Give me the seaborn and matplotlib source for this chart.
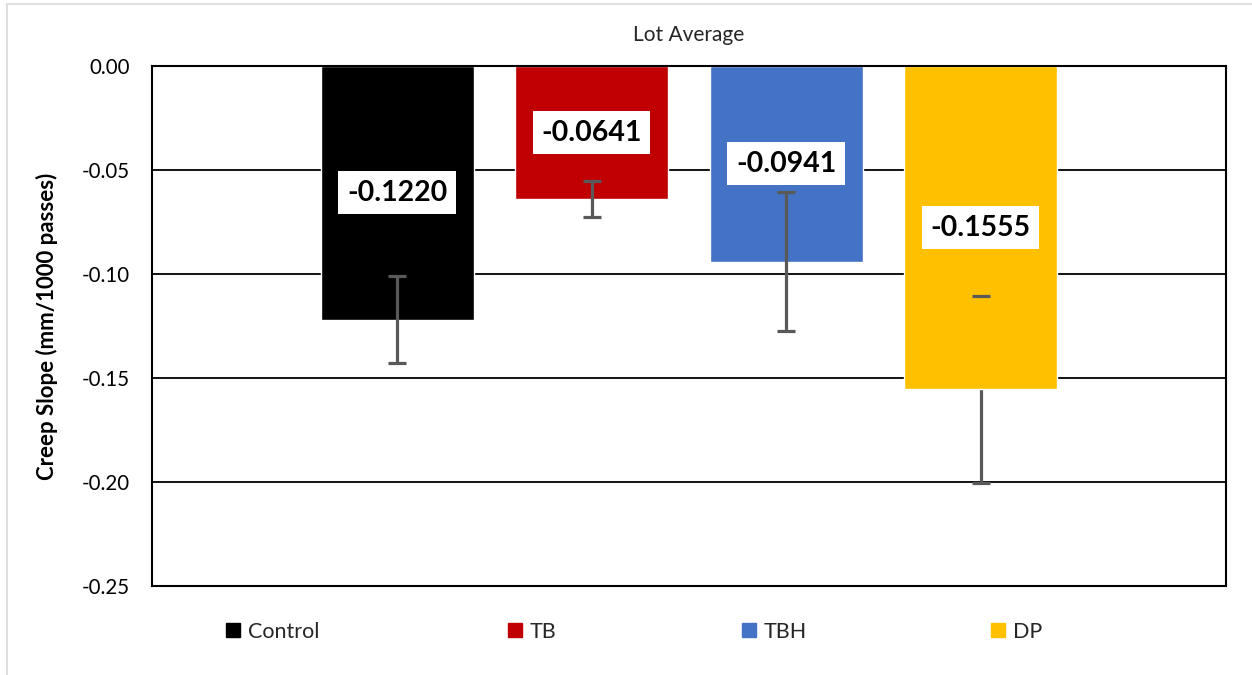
import numpy as np
import matplotlib
matplotlib.use("Agg")
import matplotlib.pyplot as plt
import seaborn as sns
from matplotlib.lines import Line2D
from matplotlib.patches import Rectangle

# Data
groups = ["Control", "TB", "TBH", "DP"]
slopes = [-0.1220, -0.0641, -0.0941, -0.1555]
errors = [0.0210, 0.0086, 0.0334, 0.0450]
colors = ["#000000", "#C00000", "#4472C4", "#FFC000"]
yticks = [0.00, -0.05, -0.10, -0.15, -0.20, -0.25]

sns.set_theme(style="white")
plt.rcParams["font.family"] = ["Lato", "DejaVu Sans"]

fig = plt.figure(figsize=(12.52, 6.75), dpi=100)
ax = fig.add_axes([152 / 1252, 1 - 586 / 675, (1226 - 152) / 1252, (586 - 66) / 675])

# light frame around the chart area
fig.patches.append(Rectangle((7 / 1252, -0.1), 1.2, 1 - 4 / 675 + 0.1,
                             transform=fig.transFigure, fill=False,
                             edgecolor="#d9d9d9", linewidth=1.2))

sns.barplot(x=groups, y=slopes, hue=groups, palette=colors, width=0.787,
            legend=False, errorbar=None, saturation=1, ax=ax, zorder=2)

# error bars (DP's stem sits behind its bar in the original)
for i, (m, e) in enumerate(zip(slopes, errors)):
    stem_z = 1.5 if groups[i] == "DP" else 3
    _, caps, bars = ax.errorbar(i, m, yerr=e, fmt="none", ecolor="#595959",
                                elinewidth=2.3, capsize=6.5, capthick=2.3)
    for b in bars:
        b.set_zorder(stem_z)
    for c in caps:
        c.set_zorder(3)

# value labels in the middle of each bar
for i, m in enumerate(slopes):
    ax.text(i, m / 2, f"{m:.4f}", ha="center", va="center", fontsize=20.5,
            fontweight="bold", color="black", zorder=4,
            bbox=dict(boxstyle="square,pad=0.3", facecolor="white", edgecolor="none"))

ax.set_xlim(-1.26, 4.262)
ax.set_ylim(-0.25, 0.0)
ax.set_yticks(yticks)
ax.set_yticklabels([f"{t:.2f}" for t in yticks])
ax.set_xticks([])
ax.set_xlabel("")
ax.tick_params(axis="y", length=0, pad=16, labelsize=14.8, labelcolor="black")

ax.yaxis.grid(True, color="black", linewidth=1.3, zorder=1)
ax.set_axisbelow(True)
for s in ax.spines.values():
    s.set_visible(True)
    s.set_color("black")
    s.set_linewidth(1.5)

ax.set_ylabel("Creep Slope (mm/1000 passes)", fontsize=16, fontweight="bold", color="black")
ax.yaxis.set_label_coords((58 - 152) / 1074, 0.5)

fig.text(689 / 1252, 1 - 35 / 675, "Lot Average", ha="center", va="center",
         fontsize=15, color="#262626")

# legend entries spaced like the original
legend_x = [225, 507, 741, 990]
for name, col, lx in zip(groups, colors, legend_x):
    h = Line2D([], [], marker="s", linestyle="none", markersize=10,
               markerfacecolor=col, markeredgecolor=col)
    fig.legend(handles=[h], labels=[name], loc="center left",
               bbox_to_anchor=(lx / 1252, 1 - 632 / 675), frameon=False,
               fontsize=15.5, handlelength=0.75, handletextpad=0.3,
               borderpad=0, borderaxespad=0)

plt.savefig("out.png", dpi=100)
plt.close()
